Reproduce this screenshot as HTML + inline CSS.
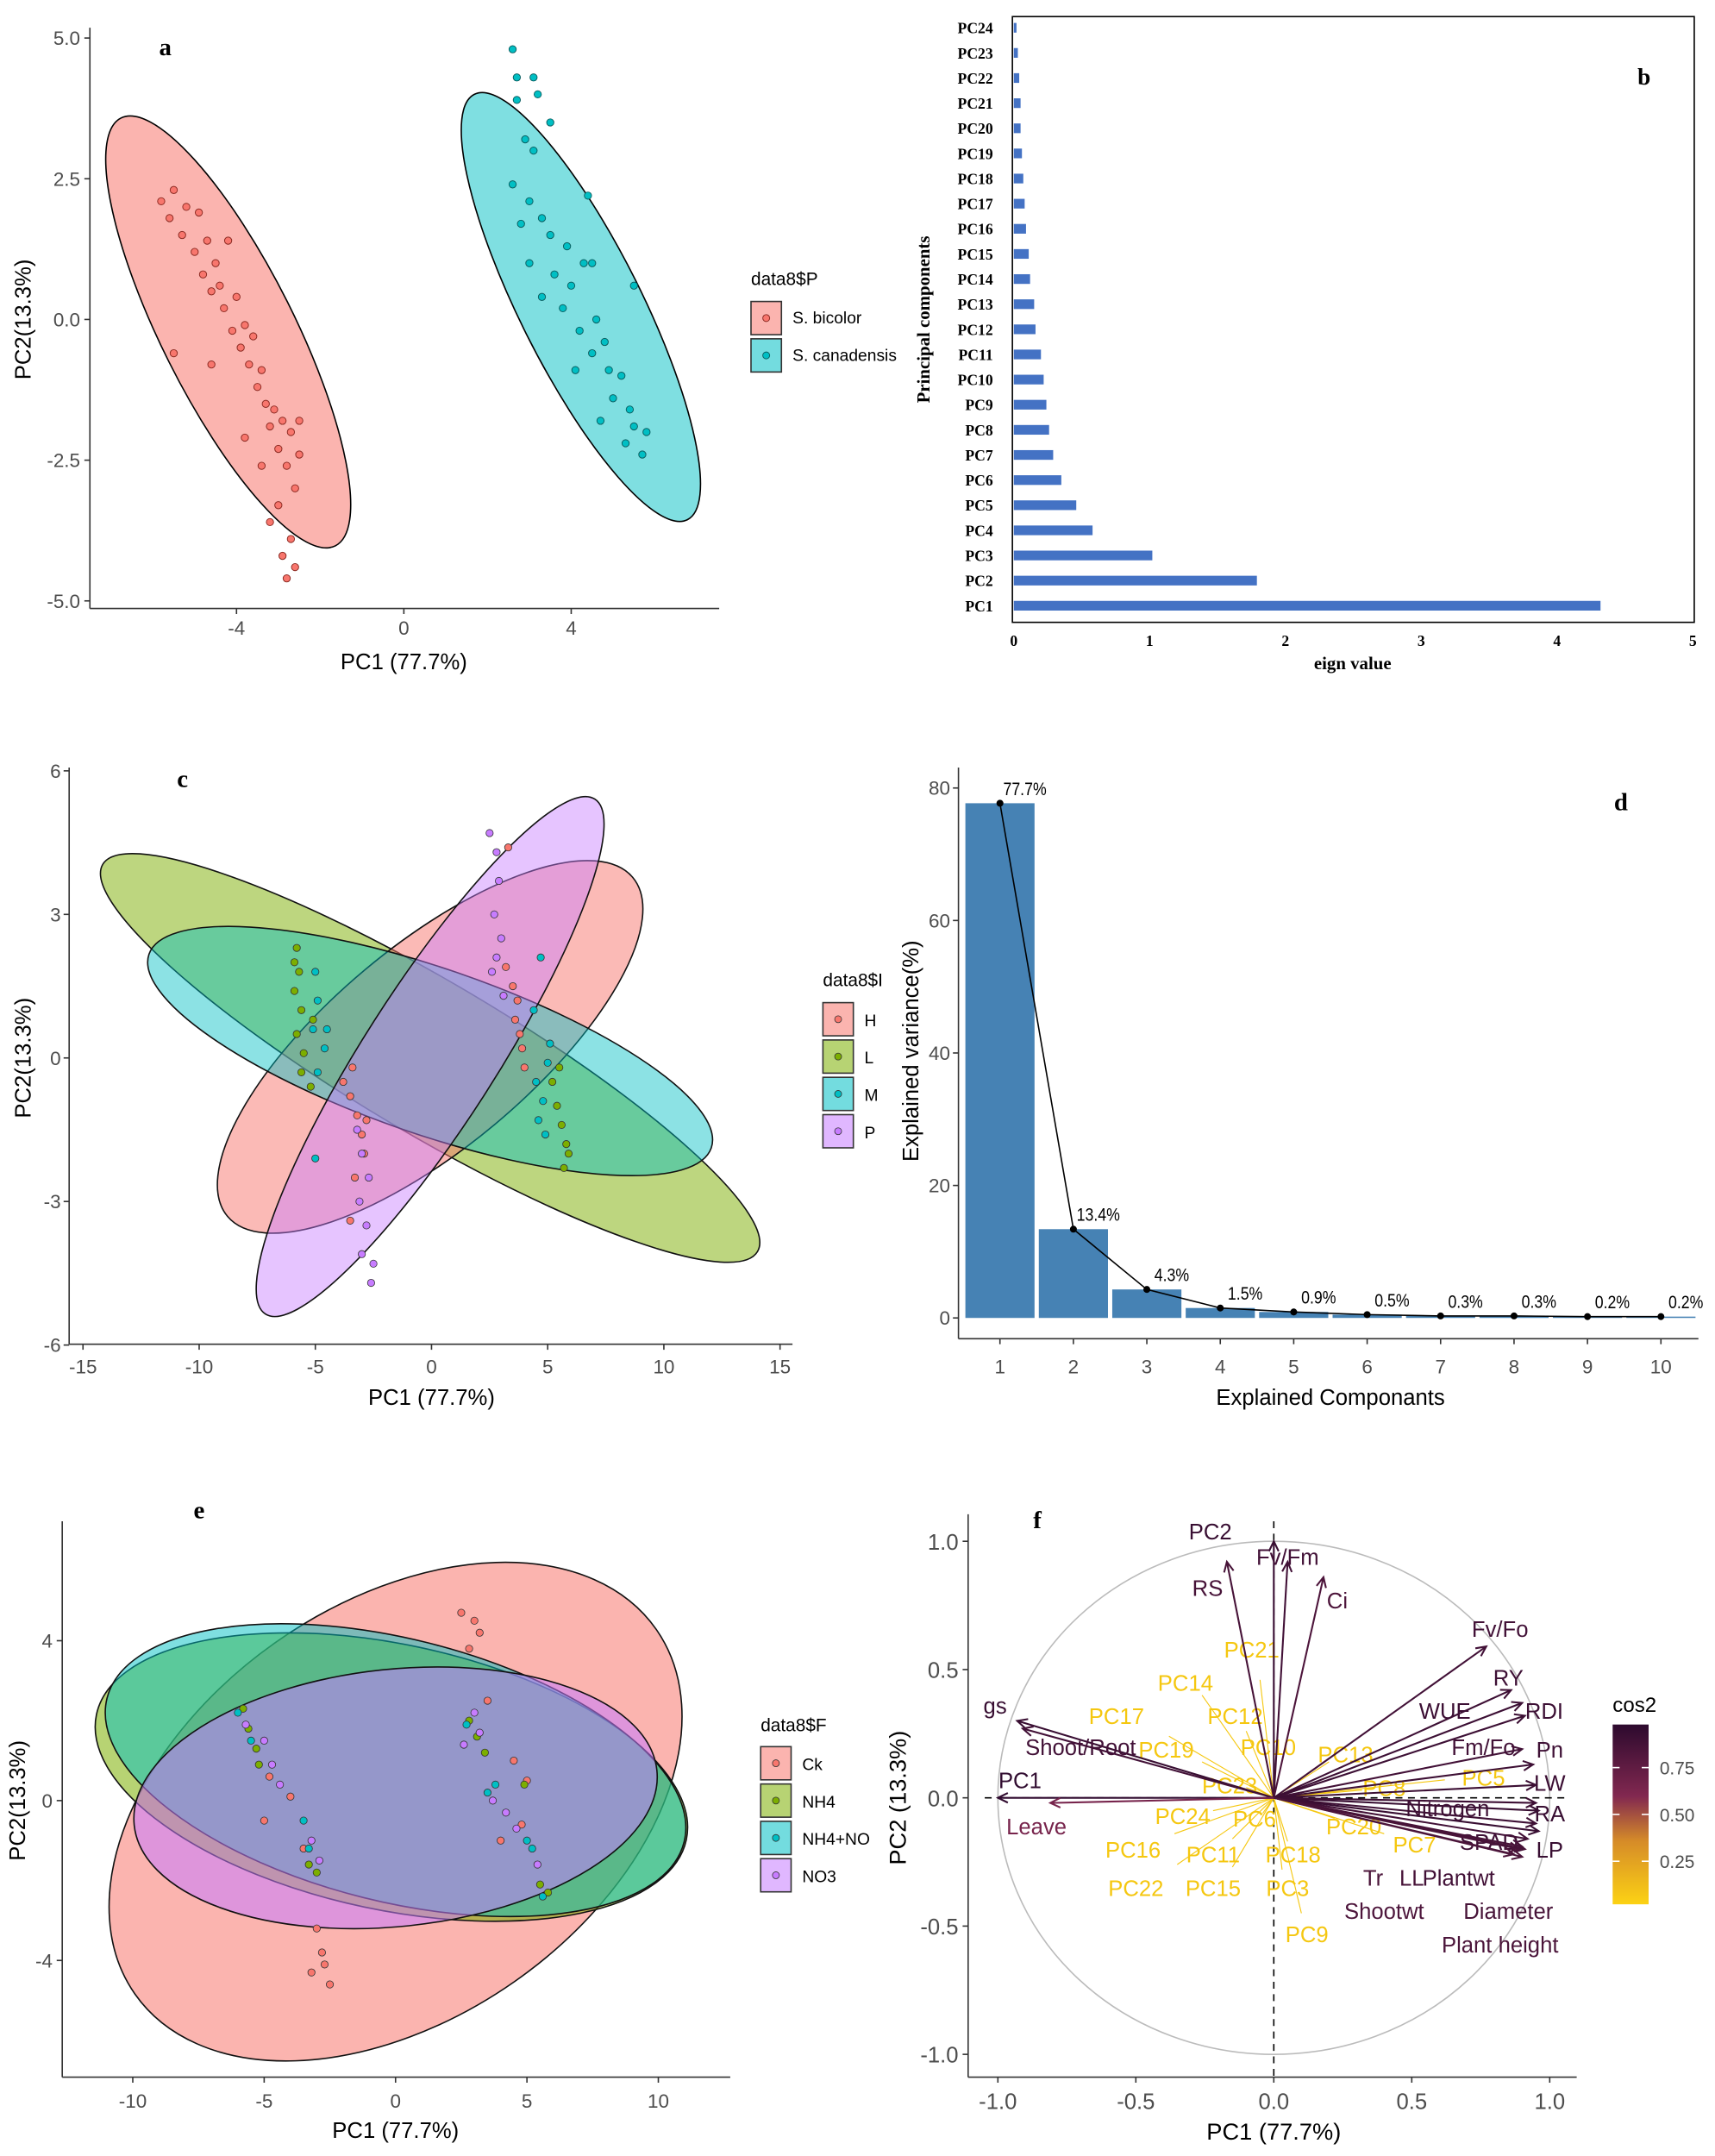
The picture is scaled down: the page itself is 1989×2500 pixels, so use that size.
<!DOCTYPE html>
<html><head><meta charset="utf-8"><style>
html,body{margin:0;padding:0;background:#fff;}
svg{display:block;}
text{font-family:"Liberation Sans",sans-serif;}
.serif{font-family:"Liberation Serif",serif;font-weight:bold;}
</style></head><body>
<svg id="fig" width="1989" height="2500" viewBox="0 0 1240 1559" preserveAspectRatio="none" xmlns="http://www.w3.org/2000/svg">
<rect x="0" y="0" width="1240" height="1559" fill="#fff"/>
</svg>
<script>
// ---------- DATA ----------
// panel a
const aRedX=[-5.8,-5.6,-5.5,-5.3,-5.2,-5.0,-4.9,-4.8,-4.7,-4.6,-4.5,-4.4,-4.3,-4.2,-4.1,-4.0,-3.9,-3.8,-3.7,-3.6,-3.5,-3.4,-3.3,-3.2,-3.1,-3.0,-2.9,-2.8,-2.7,-2.6,-2.5,-2.5,-3.2,-2.9,-2.6,-2.7,-3.8,-5.5,-4.6,-3.4,-2.8,-3.0];
const aRedY=[2.1,1.8,2.3,1.5,2.0,1.2,1.9,0.8,1.4,0.5,1.0,0.6,0.2,1.4,-0.2,0.4,-0.5,-0.1,-0.8,-0.3,-1.2,-0.9,-1.5,-1.9,-1.6,-2.3,-1.8,-2.6,-2.0,-3.0,-1.8,-2.4,-3.6,-4.2,-4.4,-3.9,-2.1,-0.6,-0.8,-2.6,-4.6,-3.3];
const aTealX=[2.6,2.7,3.1,3.2,2.7,3.5,2.9,3.1,2.6,3.0,3.3,2.8,3.5,3.0,3.6,3.3,4.0,3.8,4.3,4.2,4.6,4.5,4.8,4.9,5.2,5.0,5.4,5.5,5.3,5.7,5.8,4.7,4.4,5.5,4.1,3.9,4.5];
const aTealY=[4.8,4.3,4.3,4.0,3.9,3.5,3.2,3.0,2.4,2.1,1.8,1.7,1.5,1.0,0.8,0.4,0.6,0.2,1.0,-0.2,0.0,-0.6,-0.4,-0.9,-1.0,-1.4,-1.6,-1.9,-2.2,-2.4,-2.0,-1.8,2.2,0.6,-0.9,1.3,1.0];
const aTicksX=[-4,0,4];
const aTicksY=[5.0,2.5,0.0,-2.5,-5.0];
// panel b
const bLabels=["PC1","PC2","PC3","PC4","PC5","PC6","PC7","PC8","PC9","PC10","PC11","PC12","PC13","PC14","PC15","PC16","PC17","PC18","PC19","PC20","PC21","PC22","PC23","PC24"];
const bValues=[4.32,1.79,1.02,0.58,0.46,0.35,0.29,0.26,0.24,0.22,0.20,0.16,0.15,0.12,0.11,0.09,0.08,0.07,0.06,0.05,0.05,0.04,0.03,0.02];
const bTicks=[0,1,2,3,4,5];
// panel c
const cHX=[-3.4,-3.8,-3.5,-3.2,-3.0,-2.9,-3.3,-2.8,3.8,3.9,3.6,4.0,3.5,3.2,3.7,3.3,-3.5];
const cHY=[-0.2,-0.5,-0.8,-1.2,-1.6,-2.0,-2.5,-1.3,0.5,0.2,0.8,-0.2,1.5,1.9,1.2,4.4,-3.4];
const cLX=[-5.8,-5.7,-5.9,-5.6,-5.8,-5.5,-5.6,-5.2,5.2,5.4,5.6,5.8,5.7,5.5,5.9,-5.9,-5.1];
const cLY=[2.3,1.8,1.4,1.0,0.5,0.1,-0.3,-0.6,-0.5,-1.0,-1.4,-1.8,-2.3,-0.2,-2.0,2.0,0.8];
const cMX=[-5.0,-4.9,-5.1,-4.6,-4.9,-5.0,4.5,4.8,4.6,5.0,4.7,5.1,4.9,-4.5,4.4];
const cMY=[1.8,1.2,0.6,0.2,-0.3,-2.1,-0.5,-0.9,-1.3,-0.1,2.1,0.3,-1.6,0.6,1.0];
const cPX=[-3.2,-3.0,-2.7,-3.1,-2.8,-3.0,-2.6,2.5,2.8,2.9,2.7,3.0,2.6,3.1,2.8,-2.5];
const cPY=[-1.5,-2.0,-2.5,-3.0,-3.5,-4.1,-4.7,4.7,4.3,3.7,3.0,2.5,1.8,1.3,2.1,-4.3];
const cTicksX=[-15,-10,-5,0,5,10,15];
const cTicksY=[6,3,0,-3,-6];
// panel d
const dCats=[1,2,3,4,5,6,7,8,9,10];
const dValues=[77.7,13.4,4.3,1.5,0.9,0.5,0.3,0.3,0.2,0.2];
const dLabels=["77.7%","13.4%","4.3%","1.5%","0.9%","0.5%","0.3%","0.3%","0.2%","0.2%"];
const dTicksY=[0,20,40,60,80];
// panel e
const eCkX=[-3.0,-2.8,-3.2,-2.5,-2.7,2.5,3.0,3.2,2.8,3.5,4.5,4.8,-4.0,-4.8,-5.0,-3.5,4.0,5.0];
const eCkY=[-3.2,-3.8,-4.3,-4.6,-4.1,4.7,4.5,4.2,3.8,2.5,1.0,-0.6,0.1,0.6,-0.5,-1.2,-1.0,0.5];
const eN4X=[-5.8,-5.6,-5.3,-5.2,2.8,3.1,3.4,5.5,5.8,-3.3,-3.0,4.9];
const eN4Y=[2.3,1.8,1.3,0.9,2.0,1.6,1.2,-2.1,-2.3,-1.6,-1.8,0.4];
const eNNX=[-6.0,-5.5,-3.5,-3.3,3.5,3.8,5.0,5.2,5.6,2.7];
const eNNY=[2.2,1.5,-0.5,-1.2,0.2,0.4,-1.0,-1.2,-2.4,1.9];
const eN3X=[-5.7,-5.0,-4.7,-4.4,-3.2,-2.9,3.0,3.2,3.7,4.2,4.6,5.4,2.6];
const eN3Y=[1.9,1.5,0.9,0.4,-1.0,-1.5,2.2,1.7,0.0,-0.3,-0.7,-1.6,1.4];
const eTicksX=[-10,-5,0,5,10];
const eTicksY=[4,0,-4];
// panel f
const fNames=["PC2","Fv/Fm","Ci","RS","Fv/Fo","RY","WUE","RDI","Fm/Fo","Pn","LW","RA","LP","Nitrogen","SPAD","Plantwt","LL","Tr","Shootwt","Diameter","Plant height","gs","Shoot/Root","PC1","Leave"];
const fX=[0.0,0.05,0.18,-0.17,0.77,0.86,0.9,0.91,0.9,0.94,0.95,0.96,0.96,0.95,0.95,0.92,0.9,0.89,0.87,0.91,0.9,-0.93,-0.91,-1.0,-0.81];
const fY=[1.0,0.92,0.86,0.92,0.59,0.42,0.37,0.32,0.19,0.13,0.05,-0.05,-0.13,-0.02,-0.1,-0.16,-0.19,-0.2,-0.22,-0.2,-0.23,0.3,0.27,0.0,-0.02];
const fCos2=[0.95,0.9,0.85,0.88,0.9,0.92,0.93,0.93,0.9,0.92,0.93,0.95,0.95,0.92,0.92,0.9,0.88,0.86,0.85,0.88,0.86,0.95,0.9,0.98,0.65];
const fLX=[-0.23,0.05,0.23,-0.24,0.82,0.85,0.62,0.98,0.76,1.0,1.0,1.0,1.0,0.63,0.78,0.67,0.5,0.36,0.4,0.85,0.82,-1.01,-0.7,-0.92,-0.86];
const fLY=[1.04,0.94,0.77,0.82,0.66,0.47,0.34,0.34,0.2,0.19,0.06,-0.06,-0.2,-0.04,-0.17,-0.31,-0.31,-0.31,-0.44,-0.44,-0.57,0.36,0.2,0.07,-0.11];
const fPCNames=["PC21","PC14","PC17","PC12","PC19","PC10","PC13","PC23","PC5","PC8","PC24","PC6","PC20","PC7","PC16","PC11","PC18","PC22","PC15","PC3","PC9"];
const fPCX=[-0.05,-0.26,-0.38,-0.1,-0.26,0.0,0.2,-0.1,0.62,0.32,-0.22,-0.04,0.22,0.4,-0.36,-0.15,0.05,-0.35,-0.15,0.03,0.1];
const fPCY=[0.46,0.4,0.24,0.26,0.14,0.16,0.14,0.04,0.07,0.03,-0.05,-0.06,-0.08,-0.14,-0.14,-0.16,-0.17,-0.26,-0.27,-0.28,-0.45];
const fLPCX=[-0.08,-0.32,-0.57,-0.14,-0.39,-0.02,0.26,-0.16,0.76,0.4,-0.33,-0.07,0.29,0.51,-0.51,-0.22,0.07,-0.5,-0.22,0.05,0.12];
const fLPCY=[0.58,0.45,0.32,0.32,0.19,0.2,0.17,0.05,0.08,0.04,-0.07,-0.08,-0.11,-0.18,-0.2,-0.22,-0.22,-0.35,-0.35,-0.35,-0.53];
const fTicks=[-1.0,-0.5,0.0,0.5,1.0];
const fCbTicks=[0.75,0.50,0.25];

// ---------- HELPERS ----------
const NS="http://www.w3.org/2000/svg";
const svg=document.getElementById("fig");
function mk(tag,attrs,parent){const e=document.createElementNS(NS,tag);for(const k in attrs)e.setAttribute(k,attrs[k]);(parent||svg).appendChild(e);return e;}
function grp(name){const g=mk("g",{});return g;}
function txt(p,x,y,s,size,extra){const t=mk("text",Object.assign({x:x,y:y,"font-size":size},extra||{}),p);t.textContent=s;return t;}
function line(p,x1,y1,x2,y2,st,w){return mk("line",{x1:x1,y1:y1,x2:x2,y2:y2,stroke:st||"#000","stroke-width":w||1},p);}
const RED="#F8766D",GRN="#7CAE00",TEAL="#00BFC4",PURP="#C77CFF";

// ---------- PANEL A ----------
(function(){
 const g=grp("panel-a");
 const sx=v=>292+v*30.25, sy=v=>231-v*40.7;
 const e1=mk("ellipse",{cx:165,cy:240,rx:173,ry:48,transform:"rotate(63.4 165 240)",fill:RED,"fill-opacity":0.55,stroke:"#000","stroke-width":1},g);
 
 const e2=mk("ellipse",{cx:420,cy:222,rx:172,ry:44,transform:"rotate(63.4 420 222)",fill:TEAL,"fill-opacity":0.5,stroke:"#000","stroke-width":1},g);
 
 for(let i=0;i<aRedX.length;i++){const c=mk("circle",{cx:sx(aRedX[i]),cy:sy(aRedY[i]),r:2.6,fill:RED,stroke:"#8b2a22","stroke-width":0.6},g);
  }
 for(let i=0;i<aTealX.length;i++){const c=mk("circle",{cx:sx(aTealX[i]),cy:sy(aTealY[i]),r:2.6,fill:TEAL,stroke:"#0b5f61","stroke-width":0.6},g);
  }
 line(g,65,20,65,440,"#333",1); line(g,65,440,520,440,"#333",1);
 aTicksY.forEach(v=>{line(g,61,sy(v),65,sy(v),"#333");const t=txt(g,58,sy(v)+5,v.toFixed(1),14,{"text-anchor":"end",fill:"#4d4d4d"});});
 aTicksX.forEach(v=>{line(g,sx(v),440,sx(v),444,"#333");const t=txt(g,sx(v),459,String(v),14,{"text-anchor":"middle",fill:"#4d4d4d"});});
 const xt=txt(g,292,484,"PC1 (77.7%)",16,{"text-anchor":"middle"});
 const yt=txt(g,0,0,"PC2(13.3%)",16,{"text-anchor":"middle",transform:"translate(22 231) rotate(-90)"});
 const pl=txt(g,115,40,"a",18,{class:"serif"});
 const lt=txt(g,543,206,"data8$P",13,{});
 [["S. bicolor",RED,"#8b2a22",218],["S. canadensis",TEAL,"#0b5f61",245]].forEach(a=>{
  const r=mk("rect",{x:543,y:a[3],width:22,height:24,fill:a[1],"fill-opacity":0.55,stroke:"#333"},g);
  mk("circle",{cx:554,cy:a[3]+12,r:2.5,fill:a[1],stroke:a[2],"stroke-width":0.6},g);
  const t=txt(g,573,a[3]+16,a[0],12,{});});
})();

// ---------- PANEL B ----------
(function(){
 const g=grp("panel-b");
 const sx=v=>733+v*98.2, sy=i=>438-i*18.17;
 const box=mk("rect",{x:732,y:12,width:493,height:438,fill:"none",stroke:"#000","stroke-width":1},g);
 bValues.forEach((v,i)=>{const r=mk("rect",{x:sx(0),y:sy(i)-3.5,width:sx(v)-sx(0),height:7,fill:"#4472C4"},g);
  
  const t=txt(g,718,sy(i)+4,bLabels[i],11,{class:"serif","text-anchor":"end"});});
 bTicks.forEach(v=>{const t=txt(g,sx(v),467,String(v),11,{class:"serif","text-anchor":"middle"});});
 const xt=txt(g,978,484,"eign value",13,{class:"serif","text-anchor":"middle"});
 const yt=txt(g,0,0,"Principal components",13,{class:"serif","text-anchor":"middle",transform:"translate(672 231) rotate(-90)"});
 const pl=txt(g,1184,61,"b",17,{class:"serif"});
})();

// ---------- PANEL C ----------
(function(){
 const g=grp("panel-c");
 const sx=v=>312+v*16.8, sy=v=>765-v*34.6;
 [["ellipse-l",GRN,311,765,275,55,30.6,0.5],["ellipse-h",RED,311,757,191,73,-39.9,0.5],["ellipse-m",TEAL,311,760,215,60,19,0.45],["ellipse-p",PURP,311,764,221,48,-57.4,0.45]].forEach(a=>{
  const e=mk("ellipse",{cx:a[2],cy:a[3],rx:a[4],ry:a[5],transform:`rotate(${a[6]} ${a[2]} ${a[3]})`,fill:a[1],"fill-opacity":a[7],stroke:"#111","stroke-width":1},g);
  });
 [[cHX,cHY,RED,"point-h"],[cLX,cLY,GRN,"point-l"],[cMX,cMY,TEAL,"point-m"],[cPX,cPY,PURP,"point-p"]].forEach(s=>{
  for(let i=0;i<s[0].length;i++){const c=mk("circle",{cx:sx(s[0][i]),cy:sy(s[1][i]),r:2.6,fill:s[2],stroke:"#333","stroke-width":0.5},g);
   }});
 line(g,50,555,50,972,"#333"); line(g,50,972,573,972,"#333");
 cTicksY.forEach(v=>{line(g,46,sy(v),50,sy(v),"#333");const t=txt(g,44,sy(v)+5,String(v),14,{"text-anchor":"end",fill:"#4d4d4d"});});
 cTicksX.forEach(v=>{line(g,sx(v),972,sx(v),976,"#333");const t=txt(g,sx(v),993,String(v),14,{"text-anchor":"middle",fill:"#4d4d4d"});});
 const xt=txt(g,312,1016,"PC1 (77.7%)",16,{"text-anchor":"middle"});
 const yt=txt(g,0,0,"PC2(13.3%)",16,{"text-anchor":"middle",transform:"translate(22 765) rotate(-90)"});
 const pl=txt(g,128,569,"c",18,{class:"serif"});
 const lt=txt(g,595,713,"data8$I",13,{});
 [["H",RED],["L",GRN],["M",TEAL],["P",PURP]].forEach((a,i)=>{const y=725+i*27;
  const r=mk("rect",{x:595,y:y,width:22,height:24,fill:a[1],"fill-opacity":0.55,stroke:"#333"},g);
  mk("circle",{cx:606,cy:y+12,r:2.5,fill:a[1],stroke:"#333","stroke-width":0.5},g);
  const t=txt(g,625,y+17,a[0],12,{});});
})();

// ---------- PANEL D ----------
(function(){
 const g=grp("panel-d");
 const sx=v=>723+(v-1)*53.1, sy=v=>953-v*4.79;
 dValues.forEach((v,i)=>{const r=mk("rect",{x:sx(dCats[i])-25,y:sy(v),width:50,height:sy(0)-sy(v),fill:"#4682B4"},g);
  });
 const pts=dValues.map((v,i)=>sx(dCats[i])+","+sy(v)).join(" ");
 const pl=mk("polyline",{points:pts,fill:"none",stroke:"#000","stroke-width":1},g);
 dValues.forEach((v,i)=>{const c=mk("circle",{cx:sx(dCats[i]),cy:sy(v),r:2.5,fill:"#000"},g);
  const t=txt(g,sx(dCats[i])+18,sy(v)-6,dLabels[i],13,{"text-anchor":"middle",transform:`translate(${sx(dCats[i])+18} ${sy(v)-6}) scale(0.85 1) translate(${-(sx(dCats[i])+18)} ${-(sy(v)-6)})`});
  });
 line(g,693,555,693,968,"#333"); line(g,693,968,1228,968,"#333");
 dTicksY.forEach(v=>{line(g,689,sy(v),693,sy(v),"#333");const t=txt(g,687,sy(v)+5,String(v),14,{"text-anchor":"end",fill:"#4d4d4d"});});
 dCats.forEach(v=>{line(g,sx(v),968,sx(v),972,"#333");const t=txt(g,sx(v),993,String(v),14,{"text-anchor":"middle",fill:"#4d4d4d"});});
 const xt=txt(g,962,1016,"Explained Componants",16,{"text-anchor":"middle"});
 const yt=txt(g,0,0,"Explained variance(%)",16,{"text-anchor":"middle",transform:"translate(664 760) rotate(-90)"});
 const lb=txt(g,1167,586,"d",18,{class:"serif"});
})();

// ---------- PANEL E ----------
(function(){
 const g=grp("panel-e");
 const sx=v=>286+v*19, sy=v=>1302-v*28.9;
 [["ellipse-ck",RED,286,1310,230,150,-35,0.55],["ellipse-nh4",GRN,283,1285,218,96,12,0.55],["ellipse-nh4-no",TEAL,286,1280,215,95,14,0.5],["ellipse-no3",PURP,286,1300,190,93,-6,0.55]].forEach(a=>{
  const e=mk("ellipse",{cx:a[2],cy:a[3],rx:a[4],ry:a[5],transform:`rotate(${a[6]} ${a[2]} ${a[3]})`,fill:a[1],"fill-opacity":a[7],stroke:"#111","stroke-width":1},g);
  });
 [[eCkX,eCkY,RED,"point-ck"],[eN4X,eN4Y,GRN,"point-nh4"],[eNNX,eNNY,TEAL,"point-nh4-no"],[eN3X,eN3Y,PURP,"point-no3"]].forEach(s=>{
  for(let i=0;i<s[0].length;i++){const c=mk("circle",{cx:sx(s[0][i]),cy:sy(s[1][i]),r:2.6,fill:s[2],stroke:"#333","stroke-width":0.5},g);
   }});
 line(g,45,1100,45,1502,"#333"); line(g,45,1502,528,1502,"#333");
 eTicksY.forEach(v=>{line(g,41,sy(v),45,sy(v),"#333");const t=txt(g,38,sy(v)+5,String(v),14,{"text-anchor":"end",fill:"#4d4d4d"});});
 eTicksX.forEach(v=>{line(g,sx(v),1502,sx(v),1506,"#333");const t=txt(g,sx(v),1524,String(v),14,{"text-anchor":"middle",fill:"#4d4d4d"});});
 const xt=txt(g,286,1546,"PC1 (77.7%)",16,{"text-anchor":"middle"});
 const yt=txt(g,0,0,"PC2(13.3%)",16,{"text-anchor":"middle",transform:"translate(18 1302) rotate(-90)"});
 const pl=txt(g,140,1098,"e",18,{class:"serif"});
 const lt=txt(g,550,1252,"data8$F",13,{});
 [["Ck",RED],["NH4",GRN],["NH4+NO",TEAL],["NO3",PURP]].forEach((a,i)=>{const y=1263+i*27;
  const r=mk("rect",{x:550,y:y,width:22,height:24,fill:a[1],"fill-opacity":0.55,stroke:"#333"},g);
  mk("circle",{cx:561,cy:y+12,r:2.5,fill:a[1],stroke:"#333","stroke-width":0.5},g);
  const t=txt(g,580,y+17,a[0],12,{});});
})();

// ---------- PANEL F ----------
(function(){
 const g=grp("panel-f");
 const sx=v=>921+v*199.5, sy=v=>1300-v*185.5;
 function col(c){ // cos2 -> colour
  const stops=[[0,[252,210,20]],[0.35,[214,140,40]],[0.6,[130,40,80]],[1,[45,10,46]]];
  for(let i=1;i<stops.length;i++){if(c<=stops[i][0]){const a=stops[i-1],b=stops[i],t=(c-a[0])/(b[0]-a[0]);return "rgb("+a[1].map((v,k)=>Math.round(v+(b[1][k]-v)*t)).join(",")+")";}}
  return "rgb(45,10,46)";}
 const defs=mk("defs",{},g);
 const lg=mk("linearGradient",{id:"cbg",x1:0,y1:1,x2:0,y2:0},defs);
 [[0,"#fcd214"],[0.35,"#d68c28"],[0.6,"#822850"],[1,"#2d0a2e"]].forEach(s=>mk("stop",{offset:s[0],"stop-color":s[1]},lg));
 const circ=mk("ellipse",{cx:sx(0),cy:sy(0),rx:199.5,ry:185.5,fill:"none",stroke:"#bbb","stroke-width":1},g);
 line(g,712,sy(0),1135,sy(0),"#000",1).setAttribute("stroke-dasharray","5,4");
 line(g,sx(0),1100,sx(0),1502,"#000",1).setAttribute("stroke-dasharray","5,4");
 fPCNames.forEach((n,i)=>{const l=line(g,sx(0),sy(0),sx(fPCX[i]),sy(fPCY[i]),"#f5c710",0.7);
  const t=txt(g,sx(fLPCX[i]),sy(fLPCY[i])+6,n,16,{"text-anchor":"middle",fill:"#f5c710"});});
 fNames.forEach((n,i)=>{const c=col(fCos2[i]);const x2=sx(fX[i]),y2=sy(fY[i]);
  const l=line(g,sx(0),sy(0),x2,y2,c,1.3);
  const ang=Math.atan2(y2-sy(0),x2-sx(0));
  mk("polyline",{points:`${x2-8*Math.cos(ang-0.45)},${y2-8*Math.sin(ang-0.45)} ${x2},${y2} ${x2-8*Math.cos(ang+0.45)},${y2-8*Math.sin(ang+0.45)}`,fill:"none",stroke:c,"stroke-width":1.3},g);
  const t=txt(g,sx(fLX[i]),sy(fLY[i])+6,n,16,{"text-anchor":"middle",fill:c});});
 line(g,700,1095,700,1502,"#333"); line(g,700,1502,1140,1502,"#333");
 fTicks.forEach(v=>{line(g,696,sy(v),700,sy(v),"#333");const t=txt(g,693,sy(v)+6,v.toFixed(1),16,{"text-anchor":"end",fill:"#4d4d4d"});
  line(g,sx(v),1502,sx(v),1506,"#333");const u=txt(g,sx(v),1525,v.toFixed(1),16,{"text-anchor":"middle",fill:"#4d4d4d"});});
 const xt=txt(g,921,1547,"PC1 (77.7%)",17,{"text-anchor":"middle"});
 const yt=txt(g,0,0,"PC2 (13.3%)",17,{"text-anchor":"middle",transform:"translate(655 1300) rotate(-90)"});
 const pl=txt(g,747,1105,"f",18,{class:"serif"});
 const cb=mk("rect",{x:1166,y:1247,width:26,height:130,fill:"url(#cbg)"},g);
 const ct=txt(g,1166,1238,"cos2",15,{});
 const cy=v=>1377-(v-0.02)/0.96*130;
 fCbTicks.forEach(v=>{line(g,1166,cy(v),1171,cy(v),"#fff");line(g,1187,cy(v),1192,cy(v),"#fff");
  const t=txt(g,1200,cy(v)+5,v.toFixed(2),13,{fill:"#4d4d4d"});});
})();
</script>
</body></html>
